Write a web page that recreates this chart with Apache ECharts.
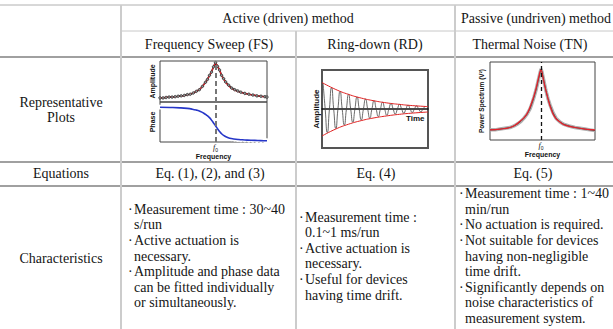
<!DOCTYPE html>
<html><head><meta charset="utf-8">
<script src="https://cdn.jsdelivr.net/npm/echarts@6/dist/echarts.min.js"></script>
<style>html,body{margin:0;padding:0;background:#fff}#c{width:613px;height:329px}</style>
</head><body><div id="c"></div>
<script>
// ---------- table text ----------
const groupHeaders = ['Active (driven) method', 'Passive (undriven) method'];
const methodHeaders = ['Frequency Sweep (FS)', 'Ring-down (RD)', 'Thermal Noise (TN)'];
const rowLabels = ['Representative\nPlots', 'Equations', 'Characteristics'];
const equations = ['Eq. (1), (2), and (3)', 'Eq. (4)', 'Eq. (5)'];
const charFS = [['Measurement time : 30~40', 's/run'], ['Active actuation is', 'necessary.'], ['Amplitude and phase data', 'can be fitted individually', 'or simultaneously.']];
const charRD = [['Measurement time :', '0.1~1 ms/run'], ['Active actuation is', 'necessary.'], ['Useful for devices', 'having time drift.']];
const charTN = [['Measurement time : 1~40', 'min/run'], ['No actuation is required.'], ['Not suitable for devices', 'having non-negligible', 'time drift.'], ['Significantly depends on', 'noise characteristics of', 'measurement system.']];

// ---------- Frequency sweep plot ----------
const fsFreq = [0,10,20,27,32,36,40,43,46,49,51,53,55,57,59,61,63,66,69,73,78,84,90,97,103,106];
const fsAmpFit = [0.10,0.12,0.14,0.17,0.21,0.26,0.33,0.41,0.51,0.64,0.74,0.85,0.94,0.88,0.77,0.66,0.56,0.45,0.37,0.30,0.25,0.21,0.18,0.15,0.13,0.12];
const fsPhaseFit = [-2,-3,-5,-8,-12,-17,-24,-32,-43,-57,-70,-85,-100,-116,-130,-142,-151,-160,-166,-170,-173,-175,-177,-178,-179,-179];
const fsDataFreq = [0,3,6,9,12,15,18,21,24,27,30,33,36,39,42,45,47,49,51,53,55,57,59,61,63,65,68,71,74,77,80,84,88,92,96,100,104,106];
const fsAmpData = [0.10,0.10,0.11,0.12,0.12,0.13,0.14,0.15,0.16,0.18,0.19,0.22,0.26,0.30,0.38,0.48,0.55,0.65,0.73,0.86,0.96,0.87,0.78,0.65,0.57,0.49,0.41,0.34,0.30,0.27,0.24,0.21,0.19,0.17,0.15,0.14,0.13,0.12];
const fsPhaseData = [-1,-2,-2,-3,-4,-5,-6,-7,-8,-9,-11,-14,-18,-23,-30,-40,-48,-58,-70,-85,-100,-117,-131,-143,-151,-157,-163,-168,-171,-173,-174,-175,-176,-177,-178,-178,-179,-179];
const fsPeak = [55];

// ---------- Ring-down plot ----------
const oscAmp = [26,0,-23.6,0,21.4,0,-19.5,0,17.7,0,-16.0,0,14.6,0,-13.2,0,12.0,0,-10.9,0,9.9,0,-9.0,0,8.2,0,-7.4,0,6.7,0,-6.1,0,5.5,0,-5.0,0,4.6,0,-4.2,0,3.8,0,-3.4,0,3.1,0,-2.8,0,2.6];
const envTime = [-0.5,6,12,18,24,30,36,42,49.4];
const envUpper = [26.5,19.5,14.6,10.9,8.2,6.1,4.6,3.4,2.4];
const envLower = [-27,-20,-15.2,-11.6,-8.9,-6.9,-5.3,-4.1,-3.0];

// ---------- Thermal noise plot ----------
const tnFreq = [0,10,20,25,30,35,38,42,45,47,49,51,53,55,58,61,65,70,75,85,95,105];
const tnFit = [0.13,0.14,0.16,0.19,0.24,0.30,0.36,0.49,0.61,0.71,0.82,0.90,0.80,0.68,0.53,0.40,0.29,0.23,0.19,0.16,0.14,0.13];
const tnDataFreq = [0,5,10,15,20,24,28,31,34,37,40,42,44,46,48,50,51,52,54,56,58,60,63,66,70,74,79,85,90,95,100,105];
const tnData = [0.13,0.13,0.14,0.15,0.16,0.18,0.21,0.24,0.28,0.33,0.40,0.47,0.55,0.64,0.75,0.86,0.91,0.87,0.75,0.63,0.53,0.45,0.35,0.28,0.23,0.20,0.18,0.16,0.15,0.14,0.13,0.12];
const tnPeak = [51];

const zip = (a, b) => a.map((v, i) => [v, b[i]]);
const SERIF = '"Liberation Serif", "Times New Roman", serif';
const SANS = '"Liberation Sans", Arial, sans-serif';
const TXT = '#151515';

// ---------- graphic (table) ----------
const g = [];
function hline(y, x1, x2, c, w) { g.push({type:'line', silent:true, shape:{x1, y1:y, x2, y2:y}, style:{stroke:c, lineWidth:w}}); }
function vline(x, y1, y2, c, w) { g.push({type:'line', silent:true, shape:{x1:x, y1, x2:x, y2}, style:{stroke:c, lineWidth:w}}); }
function txt(s, x, y, align, size) {
  g.push({type:'text', silent:true, style:{text:s, x, y, align:align||'center', verticalAlign:'middle', fontSize:size||14, fontFamily:SERIF, fill:TXT, lineHeight:15}});
}
hline(5, 0, 613, '#b0b0b0', 1);
hline(31, 121, 613, '#c8c8c8', 1);
hline(57, 0, 613, '#808080', 1.5);
hline(162, 0, 613, '#808080', 1.5);
hline(186, 0, 613, '#808080', 1.5);
vline(121, 5, 329, '#cccccc', 2);
vline(296, 31, 329, '#cccccc', 2);
vline(455, 5, 329, '#cccccc', 2);

txt(groupHeaders[0], 288, 18);
txt(groupHeaders[1], 536, 18);
txt(methodHeaders[0], 209, 44);
txt(methodHeaders[1], 375, 44);
txt(methodHeaders[2], 530, 44);
txt(rowLabels[0], 61, 110);
txt(rowLabels[1], 61, 173);
txt(rowLabels[2], 61, 258);
txt(equations[0], 210, 173);
txt(equations[1], 376, 173);
txt(equations[2], 533, 173);

function charCell(items, x0) {
  const n = items.reduce((s, it) => s + it.length, 0);
  let y = 256 - (n - 1) / 2 * 15.6;
  items.forEach(it => {
    txt('\u00b7', x0, y, 'left');
    it.forEach(line => { txt(line, x0 + 6, y, 'left'); y += 15.6; });
  });
}
charCell(charFS, 128);
charCell(charRD, 299);
charCell(charTN, 459);

// ---------- chart ----------
const nameStyle = (size) => ({fontSize:size, fontWeight:'bold', fontFamily:SANS, color:'#111'});
const hidden = {axisLine:{show:false}, axisTick:{show:false}, axisLabel:{show:false}, splitLine:{show:false}};
const f0Label = (vals) => ({show:true, customValues:vals, margin:0, formatter:() => '{i|f}{s|0}',
  rich:{i:{fontStyle:'italic', fontSize:8, fontFamily:SERIF, color:'#111'}, s:{fontSize:5, fontFamily:SANS, color:'#111', padding:[5,0,0,0]}}});

const option = {
  animation:false,
  backgroundColor:'#fff',
  graphic:g,
  grid:[
    {left:160, top:61, width:107, height:41, show:true, borderColor:'#444', borderWidth:1, outerBoundsMode:'none'},
    {left:160, top:102, width:107, height:40, show:true, borderColor:'#444', borderWidth:1, outerBoundsMode:'none'},
    {left:322, top:70, width:106, height:78, show:true, borderColor:'#555', borderWidth:2, outerBoundsMode:'none'},
    {left:490, top:62, width:105, height:78, show:true, borderColor:'#444', borderWidth:1, outerBoundsMode:'none'}
  ],
  xAxis:[
    Object.assign({gridIndex:0, type:'value', min:0, max:106}, hidden),
    Object.assign({gridIndex:1, type:'value', min:0, max:106}, hidden, {axisLabel:f0Label(fsPeak), name:'Frequency', nameLocation:'middle', nameGap:9, nameTextStyle:nameStyle(7)}),
    Object.assign({gridIndex:2, type:'value', min:-0.5, max:49.4}, hidden, {axisLine:{show:true, onZero:true, lineStyle:{color:'#111', width:1.5}}, name:'Time', nameLocation:'end', nameGap:-22, nameTextStyle:Object.assign(nameStyle(8), {verticalAlign:'top', padding:[5,0,0,0]})}),
    Object.assign({gridIndex:3, type:'value', min:0, max:105}, hidden, {axisLabel:f0Label(tnPeak), name:'Frequency', nameLocation:'middle', nameGap:10, nameTextStyle:nameStyle(7)})
  ],
  yAxis:[
    Object.assign({gridIndex:0, type:'value', min:0, max:1}, hidden, {name:'Amplitude', nameLocation:'middle', nameGap:4, nameTextStyle:nameStyle(7)}),
    Object.assign({gridIndex:1, type:'value', min:-186, max:26}, hidden, {name:'Phase', nameLocation:'middle', nameGap:4, nameTextStyle:nameStyle(7)}),
    Object.assign({gridIndex:2, type:'value', min:-39, max:39}, hidden, {name:'Amplitude', nameLocation:'middle', nameGap:2, nameTextStyle:nameStyle(8)}),
    Object.assign({gridIndex:3, type:'value', min:0, max:1}, hidden, {name:'Power Spectrum (V\u00b2)', nameLocation:'middle', nameGap:5, nameTextStyle:nameStyle(6.5)})
  ],
  series:[
    {type:'line', xAxisIndex:0, yAxisIndex:0, data:zip(fsDataFreq, fsAmpData), symbol:'circle', symbolSize:2.5, showSymbol:true,
      itemStyle:{color:'#999', borderColor:'#222', borderWidth:0.7}, lineStyle:{color:'#333', width:1.6}, silent:true,
      markLine:{silent:true, symbol:'none', label:{show:false}, lineStyle:{type:[5,3], color:'#777', width:2}, data:[{xAxis:fsPeak[0]}]}},
    {type:'line', xAxisIndex:0, yAxisIndex:0, data:zip(fsFreq, fsAmpFit), showSymbol:false, smooth:true, lineStyle:{color:'#e8202a', width:1.2}, silent:true},
    {type:'line', xAxisIndex:1, yAxisIndex:1, data:zip(fsDataFreq, fsPhaseData), symbol:'emptyCircle', symbolSize:3, showSymbol:true,
      itemStyle:{color:'#fff', borderColor:'#666', borderWidth:0.6}, lineStyle:{width:0}, silent:true, z:2,
      markLine:{silent:true, symbol:'none', label:{show:false}, lineStyle:{type:[5,3], color:'#777', width:2}, data:[{xAxis:fsPeak[0]}]}},
    {type:'line', xAxisIndex:1, yAxisIndex:1, data:zip(fsFreq, fsPhaseFit), showSymbol:false, smooth:true, lineStyle:{color:'#2636c8', width:1.6}, silent:true, z:3},
    {type:'line', xAxisIndex:2, yAxisIndex:2, data:oscAmp.map((v, i) => [i, v]), showSymbol:false, smooth:0.6, lineStyle:{color:'#444', width:0.8}, silent:true},
    {type:'line', xAxisIndex:2, yAxisIndex:2, data:zip(envTime, envUpper), showSymbol:false, smooth:true, lineStyle:{color:'#e02020', width:1}, silent:true},
    {type:'line', xAxisIndex:2, yAxisIndex:2, data:zip(envTime, envLower), showSymbol:false, smooth:true, lineStyle:{color:'#e02020', width:1}, silent:true},
    {type:'line', xAxisIndex:3, yAxisIndex:3, data:zip(tnDataFreq, tnData), showSymbol:false, lineStyle:{color:'#b0b0b0', width:3.5}, silent:true,
      markLine:{silent:true, symbol:'none', label:{show:false}, lineStyle:{type:[4,3], color:'#111', width:1.3}, data:[{xAxis:tnPeak[0]}]}},
    {type:'line', xAxisIndex:3, yAxisIndex:3, data:zip(tnDataFreq, tnData), showSymbol:false, lineStyle:{color:'#333', width:0.8}, silent:true},
    {type:'line', xAxisIndex:3, yAxisIndex:3, data:zip(tnFreq, tnFit), showSymbol:false, smooth:true, lineStyle:{color:'#e8202a', width:1.2}, silent:true}
  ]
};
const chart = echarts.init(document.getElementById('c'), null, {renderer:'svg'});
chart.setOption(option);
</script></body></html>
